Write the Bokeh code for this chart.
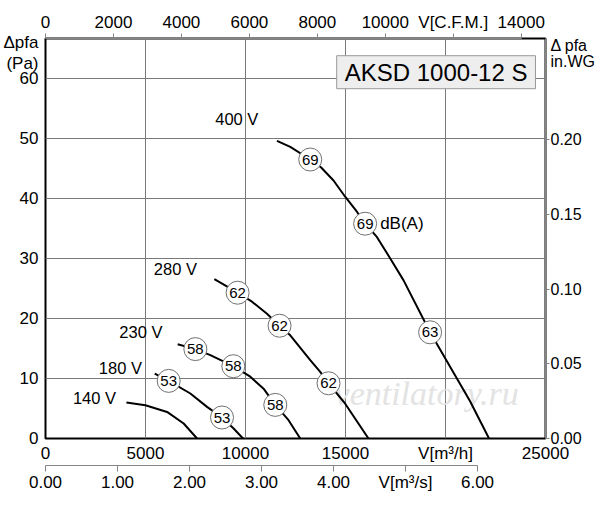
from bokeh.plotting import figure
from bokeh.models import Range1d, LinearAxis, FixedTicker, NumeralTickFormatter, Label
from bokeh.core.properties import value
from bokeh.embed import file_html
from bokeh.resources import INLINE

# ---------------- data (flow in m3/h, pressure in Pa) ----------------
title_text = "AKSD 1000-12 S"
volt_labels = ["400 V", "280 V", "230 V", "180 V", "140 V"]
volt_label_q = [9566, 6494, 4770, 3746, 2448]
volt_label_p = [53.2, 28.3, 17.7, 11.7, 6.7]

q_400 = [11574, 12238, 13237, 13771, 14401, 14983, 15570, 15982, 16568, 17268, 17897, 19231, 21229, 22178]
p_400 = [49.6, 48.6, 46.5, 45.2, 43.0, 40.3, 37.8, 35.8, 33.6, 29.85, 26.4, 17.7, 6.2, 0.0]
q_280 = [8442, 9605, 10325, 11074, 11703, 12238, 13237, 13736, 14151, 14570, 14985, 16149]
p_280 = [26.55, 24.3, 22.8, 20.8, 18.8, 17.2, 13.05, 11.1, 9.2, 7.5, 5.8, 0.0]
q_230 = [6608, 7493, 8242, 9391, 10240, 10904, 11489, 12153, 12737]
p_230 = [15.7, 14.9, 13.9, 12.05, 10.3, 8.3, 5.6, 3.05, 0.0]
q_180 = [5460, 6159, 7243, 8077, 8826, 9406, 9875]
p_180 = [10.83, 9.6, 7.5, 5.27, 3.5, 1.67, 0.0]
q_140 = [4046, 4995, 6079, 6908, 7577]
p_140 = [6.0, 5.55, 4.43, 2.5, 0.0]

# sound level markers dB(A)
db_text = ["69", "69", "63", "62", "62", "62", "58", "58", "58", "53", "53"]
db_q = [13237, 15982, 19231, 9605, 11703, 14151, 7493, 9391, 11489, 6159, 8826]
db_p = [46.5, 35.8, 17.7, 24.3, 18.8, 9.2, 14.9, 12.05, 5.6, 9.6, 3.5]

# axes ticks and titles
q_ticks = [0, 5000, 10000, 15000, 20000, 25000]
p_ticks = [0, 10, 20, 30, 40, 50, 60]
cfm_ticks = [0, 2000, 4000, 6000, 8000, 10000, 12000, 14000]
m3s_ticks = [0, 1, 2, 3, 4, 5, 6]
inwg_ticks = [0, 0.05, 0.10, 0.15, 0.20]
left_title = ["Δpfa", "(Pa)"]
left_title_pos = [65.93, 62.5]          # Pa
right_title = ["Δ pfa", "in.WG"]
right_title_pos = [0.26316, 0.25200]    # in.WG

Q_MAX = 25000
P_MAX = 66.67
FONT = "Liberation Sans"

p = figure(width=600, height=505, toolbar_location=None, output_backend="svg",
           x_range=Range1d(0, Q_MAX), y_range=Range1d(0, P_MAX),
           min_border_left=45, min_border_right=55, min_border_top=38, min_border_bottom=67)
p.extra_x_ranges = {"cfm": Range1d(0, Q_MAX * 0.588578), "m3s": Range1d(0, Q_MAX / 3600.0)}
p.extra_y_ranges = {"inwg": Range1d(0, P_MAX / 249.089)}

p.outline_line_color = "black"
p.outline_line_width = 2
p.background_fill_color = "white"
p.border_fill_color = "white"

AXIS_GRAY = "#858585"


def base_style(ax, size="17px"):
    ax.major_label_text_font = FONT
    ax.major_label_text_font_size = size
    ax.major_label_text_color = "black"
    ax.minor_tick_line_color = None
    ax.minor_tick_in = 0
    ax.minor_tick_out = 0


def spacer(n):
    a = LinearAxis(ticker=FixedTicker(ticks=[]), axis_line_color=None,
                   major_tick_line_color=None, major_tick_in=0, major_tick_out=n,
                   major_label_standoff=0)
    base_style(a)
    return a


# main bottom axis (m3/h)
xa = p.xaxis[0]
xa.ticker = FixedTicker(ticks=q_ticks)
xa.major_label_overrides = {20000: "V[m³/h]"}
xa.axis_line_color = None
xa.major_tick_line_color = None
xa.major_tick_in = 0
xa.major_tick_out = 0
xa.major_label_standoff = 5
base_style(xa)

# left axis (Pa) with its title as extra labels at the top
ya = p.yaxis[0]
ya.ticker = FixedTicker(ticks=p_ticks + left_title_pos)
ya.major_label_overrides = dict(zip(left_title_pos, left_title))
ya.axis_line_color = None
ya.major_tick_line_color = None
ya.major_tick_in = 0
ya.major_tick_out = 0
ya.major_label_standoff = 7
base_style(ya)

p.xgrid.ticker = FixedTicker(ticks=q_ticks)
p.ygrid.ticker = FixedTicker(ticks=p_ticks)
for g in (p.xgrid[0], p.ygrid[0]):
    g.grid_line_color = "#7a7a7a"
    g.grid_line_width = 1

# top axis (CFM)
p.add_layout(spacer(12), "above")
cfm = LinearAxis(x_range_name="cfm", ticker=FixedTicker(ticks=cfm_ticks), bounds=(0, 14000),
                 major_label_overrides={12000: "V[C.F.M.]"}, major_tick_out=5, major_tick_in=0,
                 axis_line_color=AXIS_GRAY, major_tick_line_color=AXIS_GRAY, major_label_standoff=2)
base_style(cfm)
p.add_layout(cfm, "above")

# bottom second axis (m3/s)
p.add_layout(spacer(9), "below")
m3s = LinearAxis(x_range_name="m3s", ticker=FixedTicker(ticks=m3s_ticks), bounds=(0, 6),
                 formatter=NumeralTickFormatter(format="0.00"),
                 major_label_overrides={5: "V[m³/s]"}, major_tick_out=6, major_tick_in=0,
                 axis_line_color=AXIS_GRAY, major_tick_line_color=AXIS_GRAY, major_label_standoff=1)
base_style(m3s)
p.add_layout(m3s, "below")

# right axis (in.WG) with its title as extra labels at the top
p.add_layout(spacer(5), "right")
inwg = LinearAxis(y_range_name="inwg",
                  ticker=FixedTicker(ticks=inwg_ticks + right_title_pos, minor_ticks=inwg_ticks),
                  formatter=NumeralTickFormatter(format="0.00"),
                  major_label_overrides=dict(zip(right_title_pos, right_title)),
                  major_tick_out=4, major_tick_in=0, major_tick_line_color=None,
                  axis_line_color=AXIS_GRAY, major_label_standoff=1)
base_style(inwg, size="16px")
inwg.minor_tick_line_color = AXIS_GRAY
inwg.minor_tick_out = 4
inwg.minor_tick_in = 0
p.add_layout(inwg, "right")

# watermark
p.text(x=[19056], y=[7.55], text=["ventilatory.ru"], text_font=value("Liberation Serif"),
       text_font_style="italic", text_font_size="34px", text_color="#e3e3e3",
       text_align="center", text_baseline="middle")

# curves
for qs, ps in [(q_400, p_400), (q_280, p_280), (q_230, p_230), (q_180, p_180), (q_140, p_140)]:
    p.line(qs, ps, line_color="black", line_width=2)

# dB markers
p.scatter(db_q, db_p, marker="circle", size=23, fill_color="white",
          line_color="#707070", line_width=1)
p.text(db_q, db_p, text=db_text, text_font=value(FONT), text_font_size="15px",
       text_color="black", text_align="center", text_baseline="middle")
p.text(x=[16733], y=[35.8], text=["dB(A)"], text_font=value(FONT), text_font_size="17px",
       text_color="black", text_align="left", text_baseline="middle")

# voltage labels
p.text(volt_label_q, volt_label_p, text=volt_labels, text_font=value(FONT), text_font_size="16.5px",
       text_color="black", text_align="center", text_baseline="middle")

# title box
p.add_layout(Label(x=19530, y=61.05, text=title_text, text_align="center", text_baseline="middle",
                   text_font=FONT, text_font_size="24px", text_color="black",
                   background_fill_color="#eeeeee", border_line_color="#999999", border_line_width=1,
                   padding=dict(left=8, right=8, top=3, bottom=3)))

open("out.html", "w").write(file_html(p, INLINE))
